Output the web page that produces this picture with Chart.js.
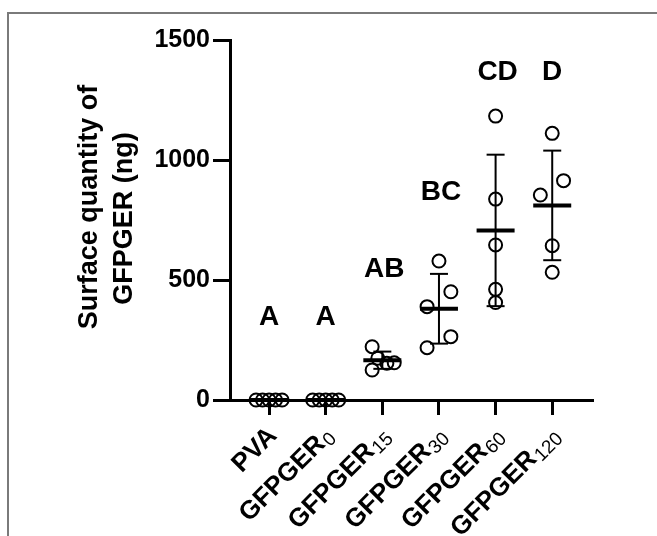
<!DOCTYPE html>
<html>
<head>
<meta charset="utf-8">
<script src="https://cdn.jsdelivr.net/npm/chart.js"></script>
<style>
    body { margin: 0; background: #fff; }
    #wrap { position: relative; width: 657px; height: 536px; overflow: hidden; }
    #frame {
        position: absolute; left: 7px; top: 12px; width: 700px; height: 600px;
        border-top: 2px solid #7a7a7a; border-left: 2px solid #7a7a7a;
    }
    canvas { position: absolute; left: 0; top: 0; }
</style>
</head>
<body>
<div id="wrap">
    <div id="frame"></div>
    <canvas id="surfaceChart" width="657" height="536"></canvas>
</div>
<script>
// groups on the x axis (name + subscript)
const groupNames = ["PVA", "GFPGER", "GFPGER", "GFPGER", "GFPGER", "GFPGER"];
const groupSubs = ["", "0", "15", "30", "60", "120"];

// individual measurements (ng), five per group
const pvaValues = [0, 0, 0, 0, 0];
const g0Values = [0, 0, 0, 0, 0];
const g15Values = [222, 125, 174, 153, 155];
const g30Values = [579, 389, 451, 264, 218];
const g60Values = [1183, 837, 646, 461, 406];
const g120Values = [1111, 914, 854, 643, 532];
const groupValues = [pvaValues, g0Values, g15Values, g30Values, g60Values, g120Values];

// horizontal spread of the dots inside a group (category units)
const jitter = [
    [-0.23, -0.115, 0, 0.115, 0.23],
    [-0.23, -0.115, 0, 0.115, 0.23],
    [-0.18, -0.18, -0.08, 0.08, 0.21],
    [0, -0.21, 0.21, 0.21, -0.21],
    [0, 0, 0, 0, 0],
    [0, 0.2, -0.21, 0, 0],
];

// significance letters and the height they sit at
const sigLetters = ["A", "A", "AB", "BC", "CD", "D"];
const sigLetterY = [312, 312, 512, 833, 1333, 1333];

const yTicks = [0, 500, 1000, 1500];
const yTitle = ["Surface quantity of", "GFPGER (ng)"];

const FONT = '"Liberation Sans", Arial, sans-serif';

// mean and SD of each group
const means = groupValues.map((v) => v.reduce((a, b) => a + b, 0) / v.length);
const sds = groupValues.map((v, i) => {
    const ss = v.reduce((a, b) => a + (b - means[i]) ** 2, 0);
    return Math.sqrt(ss / (v.length - 1));
});

const dots = [];
groupValues.forEach((vals, g) => {
    vals.forEach((y, k) => dots.push({ x: g + jitter[g][k], y: y }));
});

const errLines = [];
means.forEach((m, g) => {
    errLines.push({ x: g, y: m - sds[g] });
    errLines.push({ x: g, y: m + sds[g] });
    errLines.push({ x: g, y: null });
});
const capPoints = [];
means.forEach((m, g) => {
    capPoints.push({ x: g, y: m - sds[g] });
    capPoints.push({ x: g, y: m + sds[g] });
});
const meanPoints = means.map((m, g) => ({ x: g, y: m }));

// letters, y-title and subscripted x labels
const textPlugin = {
    id: "textPlugin",
    afterDraw(chart) {
        const ctx = chart.ctx;
        const xs = chart.scales.x;
        const ys = chart.scales.y;
        ctx.save();
        ctx.fillStyle = "#000";

        ctx.font = "bold 28px " + FONT;
        ctx.textAlign = "center";
        ctx.textBaseline = "alphabetic";
        sigLetters.forEach((t, i) => {
            const dx = t.length > 1 ? 2 : 0;
            ctx.fillText(t, xs.getPixelForValue(i) + dx, ys.getPixelForValue(sigLetterY[i]));
        });

        // y axis title, two lines
        const midY = (ys.top + ys.bottom) / 2;
        ctx.font = "bold 27px " + FONT;
        [[97, midY - 13], [132, midY - 1.5]].forEach((p, i) => {
            ctx.save();
            ctx.translate(p[0], p[1]);
            ctx.rotate(-Math.PI / 2);
            ctx.fillText(yTitle[i], 0, 0);
            ctx.restore();
        });

        // x labels rotated 45 degrees
        groupNames.forEach((name, i) => {
            const px = xs.getPixelForValue(i);
            ctx.save();
            ctx.translate(px + 9, xs.top + 37);
            ctx.rotate(-Math.PI / 4);
            ctx.textAlign = "left";
            ctx.font = "bold 26px " + FONT;
            const wMain = ctx.measureText(name).width;
            ctx.font = "19px " + FONT;
            const sub = groupSubs[i];
            const wSub = sub ? ctx.measureText(sub).width + 1 : 0;
            const start = -(wMain + wSub);
            ctx.font = "bold 26px " + FONT;
            ctx.fillText(name, start, 0);
            if (sub) {
                ctx.font = "19px " + FONT;
                ctx.fillText(sub, start + wMain + 1, 4);
            }
            ctx.restore();
        });
        ctx.restore();
    },
};

new Chart(document.getElementById("surfaceChart").getContext("2d"), {
    type: "scatter",
    data: {
        datasets: [
            {
                // error bars (vertical part)
                data: errLines,
                showLine: true,
                spanGaps: false,
                borderColor: "#000",
                borderWidth: 2,
                pointRadius: 0,
                clip: false,
            },
            {
                // error bar caps
                data: capPoints,
                pointStyle: "line",
                pointRadius: 9,
                borderColor: "#000",
                borderWidth: 2,
                clip: false,
            },
            {
                // mean
                data: meanPoints,
                pointStyle: "line",
                pointRadius: 19,
                borderColor: "#000",
                borderWidth: 4,
                clip: false,
            },
            {
                data: dots,
                pointStyle: "circle",
                pointRadius: 6.5,
                borderColor: "#000",
                borderWidth: 2,
                backgroundColor: "rgba(0,0,0,0)",
                clip: false,
            },
        ],
    },
    options: {
        responsive: false,
        animation: false,
        events: [],
        layout: {
            padding: { left: 0, top: 40, right: 64, bottom: 0 },
        },
        plugins: {
            legend: { display: false },
            tooltip: { enabled: false },
        },
        scales: {
            x: {
                type: "linear",
                min: -0.69,
                max: 5.72,
                offset: false,
                afterBuildTicks: (scale) => {
                    scale.ticks = groupNames.map((_, i) => ({ value: i }));
                },
                afterFit: (scale) => {
                    scale.height = 136;
                },
                ticks: { display: false },
                grid: {
                    drawOnChartArea: false,
                    drawTicks: true,
                    tickLength: 15,
                    tickWidth: 3,
                    tickColor: "#000",
                    offset: false,
                },
                border: { display: true, color: "#000", width: 3 },
            },
            y: {
                min: 0,
                max: 1500,
                afterBuildTicks: (scale) => {
                    scale.ticks = yTicks.map((v) => ({ value: v }));
                },
                afterFit: (scale) => {
                    scale.width = 230;
                },
                ticks: {
                    color: "#000",
                    padding: 3,
                    font: { family: FONT, size: 25, weight: "bold" },
                    callback: (v) => String(v),
                },
                grid: {
                    drawOnChartArea: false,
                    drawTicks: true,
                    tickLength: 17,
                    tickWidth: 3,
                    tickColor: "#000",
                },
                border: { display: true, color: "#000", width: 3 },
            },
        },
    },
    plugins: [textPlugin],
});
</script>
</body>
</html>
